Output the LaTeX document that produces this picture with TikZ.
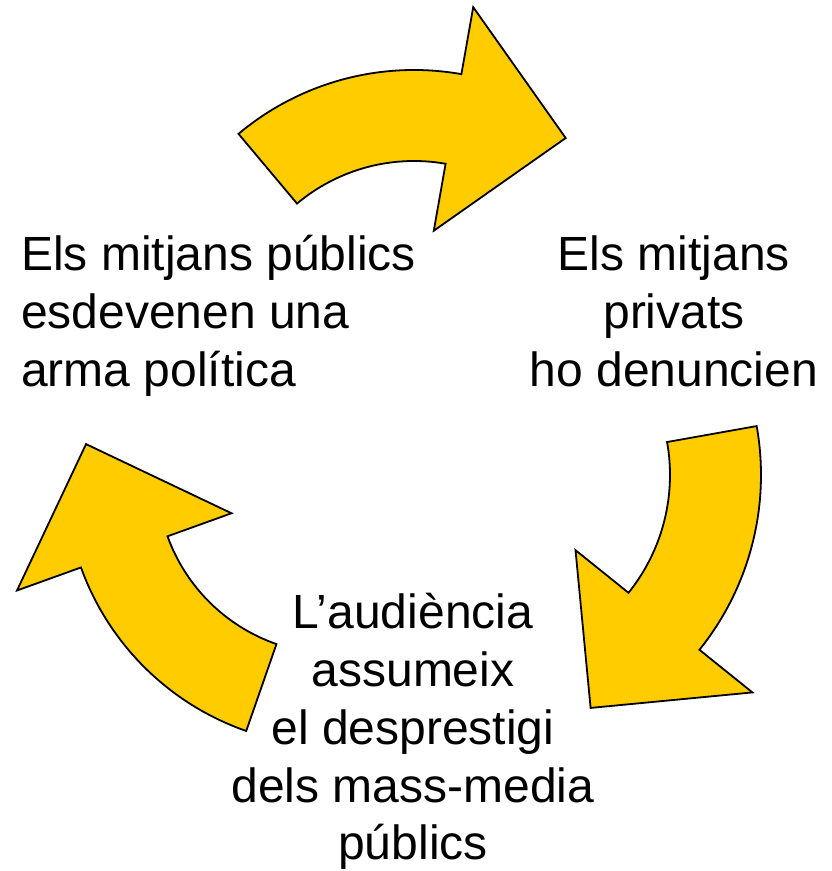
\documentclass[tikz,border=0pt]{standalone}
\usepackage{fontspec}
\setmainfont{Liberation Sans}
\definecolor{arrowfill}{HTML}{FFCC00}
\def\headext{68}% how far the head sticks out past the band

\begin{document}
\begin{tikzpicture}[x=1pt,y=1pt,
    cyclearrow/.style={fill=arrowfill,draw=black,line width=1.8pt},
    steptext/.style={inner sep=0pt,font=\fontsize{48}{58}\selectfont}]%
  \useasboundingbox (0,0) rectangle (832,871);%
  \foreach \cx/\cy/\ro/\ri/\tail/\neck/\tip/\rtip in {%
      414/528/273/182/130/80/53.5/255,%       % top arrow
      482/396/279/188/10.1/-38.8/-65/257,%    % right arrow
      335/395/270/178/250.8/199.8/172.7/251%  % left arrow
    }{%
      % band along the circle, then the head
      \draw[cyclearrow,shift={(\cx,\cy)}] (\tail:\ro)%
        arc[start angle=\tail,end angle=\neck,radius=\ro]%
        -- (\neck:\ro+\headext) -- (\tip:\rtip) -- (\neck:\ri-\headext)%
        -- (\neck:\ri) arc[start angle=\neck,end angle=\tail,radius=\ri]%
        -- cycle;%
    };%
  % base = baseline of the last line
  \node[steptext,anchor=base west,align=left] (publics) at (21,484)
    {Els mitjans públics\\esdevenen una\\arma política};
  \node[steptext,anchor=base,align=center] (privats) at (674,484)
    {Els mitjans\\privats\\ho denuncien};
  \node[steptext,anchor=base,align=center] (audiencia) at (413,11)
    {L’audiència\\assumeix\\el desprestigi\\dels mass-media\\públics};
\end{tikzpicture}
\end{document}
